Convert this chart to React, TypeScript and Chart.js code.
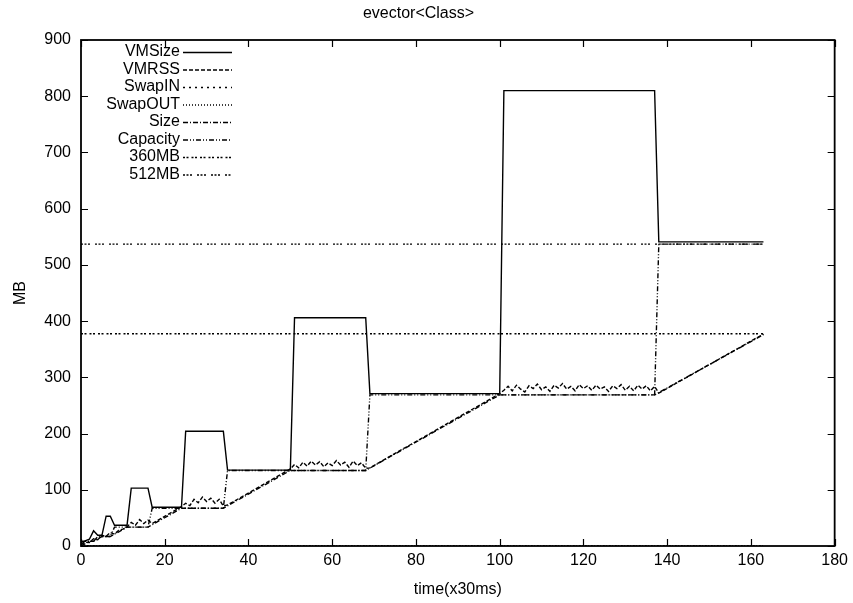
import { useEffect, useRef } from 'react';
import { Chart, registerables } from 'chart.js';

Chart.register(...registerables);

const FONT = "'Liberation Sans', Arial, Helvetica, sans-serif";
const FONT_SIZE = 16;

const TITLE = 'evector<Class>';
const X_TITLE = 'time(x30ms)';
const Y_TITLE = 'MB';
const X_MIN = 0;
const X_MAX = 180;
const X_STEP = 20;
const Y_MIN = 0;
const Y_MAX = 900;
const Y_STEP = 100;

// VMSize (solid)
const vmSizeT = [0, 1, 2, 3, 4, 5, 6, 7, 8, 11, 12, 16, 17, 24, 25, 34, 35, 50, 51, 68, 69, 100, 101, 137, 138, 163];
const vmSizeV = [3, 9, 12, 27, 19, 19, 53, 53, 37, 37, 103, 103, 69, 69, 204, 204, 135, 135, 406, 406, 271, 271, 810, 810, 541, 541];

// VMRSS (dashed)
const vmRssT = [0, 1, 2, 3, 4, 5, 6, 7, 8, 9, 10, 11, 12, 13, 14, 15, 16, 17, 24, 25, 26, 27, 28, 29, 30, 31, 32, 33, 34, 35, 50,
  51, 52, 53, 54, 55, 56, 57, 58, 59, 60, 61, 62, 63, 64, 65, 66, 67, 68, 69, 100,
  101, 102, 103, 104, 105, 106, 107, 108, 109, 110, 111, 112, 113, 114, 115, 116, 117, 118, 119, 120,
  121, 122, 123, 124, 125, 126, 127, 128, 129, 130, 131, 132, 133, 134, 135, 136, 137, 138, 163];
const vmRssV = [2, 7, 6, 13, 11, 19, 17, 24, 21, 28, 30, 34, 42, 37, 47, 40, 46, 40, 70, 76, 72, 83, 77, 87, 79, 85, 76, 83, 71, 73, 137,
  145, 139, 149, 142, 151, 144, 150, 141, 148, 143, 152, 144, 149, 140, 151, 143, 148, 138, 139, 271,
  277, 284, 276, 286, 279, 274, 285, 280, 288, 278, 283, 275, 286, 281, 289, 279, 284, 276, 287, 280,
  285, 277, 286, 279, 283, 275, 285, 280, 287, 277, 284, 276, 286, 279, 285, 276, 284, 272, 377];

// SwapIN / SwapOUT (flat at zero)
const swapInT = [0, 163];
const swapInV = [0, 0];
const swapOutT = [0, 163];
const swapOutV = [0, 0];

// Size (dash-dot)
const sizeT = [0, 2, 3, 5, 7, 11, 16, 24, 34, 50, 68, 100, 137, 163];
const sizeV = [0, 8.4, 8.4, 16.8, 16.8, 33.6, 33.6, 67.2, 67.2, 134.4, 134.4, 268.8, 268.8, 376];

// Capacity (dash-dot-dot)
const capT = [0, 3, 4, 7, 8, 16, 17, 34, 35, 68, 69, 137, 138, 163];
const capV = [8.4, 8.4, 16.8, 16.8, 33.6, 33.6, 67.2, 67.2, 134.4, 134.4, 268.8, 268.8, 537, 537];

// Reference lines
const mb360T = [0, 163];
const mb360V = [377.5, 377.5];
const mb512T = [0, 163];
const mb512V = [536.9, 536.9];

const SERIES_LABELS = ['VMSize', 'VMRSS', 'SwapIN', 'SwapOUT', 'Size', 'Capacity', '360MB', '512MB'];

function pts(t: number[], v: number[]) {
  return t.map((x, i) => ({ x, y: v[i] }));
}

const framePlugin = {
  id: 'gnuplotFrame',
  afterDatasetsDraw(chart: any) {
    const { ctx, chartArea } = chart;
    const { left, right, top, bottom } = chartArea;
    const xs = chart.scales.x;
    const ys = chart.scales.y;
    const TL = 7;
    ctx.save();
    ctx.strokeStyle = '#000';
    ctx.lineWidth = 1.2;
    ctx.setLineDash([]);
    ctx.beginPath();
    xs.ticks.forEach((tk: any) => {
      const px = Math.round(xs.getPixelForValue(tk.value)) + 0.5;
      ctx.moveTo(px, bottom);
      ctx.lineTo(px, bottom - TL);
      ctx.moveTo(px, top);
      ctx.lineTo(px, top + TL);
    });
    ys.ticks.forEach((tk: any) => {
      const py = Math.round(ys.getPixelForValue(tk.value)) + 0.5;
      ctx.moveTo(left, py);
      ctx.lineTo(left + TL, py);
      ctx.moveTo(right, py);
      ctx.lineTo(right - TL, py);
    });
    ctx.stroke();
    ctx.lineWidth = 1.8;
    ctx.strokeRect(left, top, right - left, bottom - top);

    // key (legend) in gnuplot style: right aligned text then line sample
    ctx.font = `${FONT_SIZE}px ${FONT}`;
    ctx.fillStyle = '#000';
    ctx.textAlign = 'right';
    ctx.textBaseline = 'middle';
    const textRight = left + 99;
    const sx0 = left + 102;
    const sx1 = left + 151;
    chart.data.datasets.forEach((ds: any, i: number) => {
      const y = top + 12 + i * 17.5;
      ctx.fillText(ds.label, textRight, y);
      ctx.beginPath();
      ctx.lineWidth = ds.borderWidth;
      ctx.setLineDash(ds.borderDash || []);
      ctx.moveTo(sx0, y + 0.5);
      ctx.lineTo(sx1, y + 0.5);
      ctx.stroke();
    });
    ctx.restore();
  },
};

export default function App() {
  const ref = useRef<HTMLCanvasElement | null>(null);
  useEffect(() => {
    document.body.style.margin = '0';
    const canvas = ref.current;
    if (!canvas) return;
    const mk = (label: string, data: any[], dash: number[]) => ({
      label,
      data,
      borderColor: '#000',
      backgroundColor: '#000',
      borderWidth: 1.4,
      borderDash: dash,
      pointRadius: 0,
      tension: 0,
      fill: false,
    });
    const chart = new Chart(canvas, {
      type: 'line',
      data: {
        datasets: [
          mk(SERIES_LABELS[0], pts(vmSizeT, vmSizeV), []),
          mk(SERIES_LABELS[1], pts(vmRssT, vmRssV), [4, 2]),
          mk(SERIES_LABELS[2], pts(swapInT, swapInV), [2, 4]),
          mk(SERIES_LABELS[3], pts(swapOutT, swapOutV), [1, 2]),
          mk(SERIES_LABELS[4], pts(sizeT, sizeV), [5, 2, 1, 2]),
          mk(SERIES_LABELS[5], pts(capT, capV), [5, 2, 1, 2, 1, 2]),
          mk(SERIES_LABELS[6], pts(mb360T, mb360V), [2, 1.5, 2, 3]),
          mk(SERIES_LABELS[7], pts(mb512T, mb512V), [2, 1.5, 2, 1.5, 2, 5]),
        ],
      },
      options: {
        responsive: false,
        animation: false,
        devicePixelRatio: 1,
        layout: { padding: { left: 0, right: 16, top: 0, bottom: 0 } },
        plugins: {
          legend: { display: false },
          tooltip: { enabled: false },
          title: {
            display: true,
            text: TITLE,
            color: '#000',
            font: { family: FONT, size: FONT_SIZE, weight: 'normal' },
            padding: { top: 4, bottom: 16.8 },
          },
        },
        scales: {
          x: {
            type: 'linear',
            min: X_MIN,
            max: X_MAX,
            grid: { display: false, drawTicks: false },
            border: { display: false },
            ticks: {
              stepSize: X_STEP,
              color: '#000',
              padding: 5,
              maxRotation: 0,
              font: { family: FONT, size: FONT_SIZE },
            },
            title: {
              display: true,
              text: X_TITLE,
              color: '#000',
              font: { family: FONT, size: FONT_SIZE },
              padding: { top: 0, bottom: 4 },
            },
            afterFit: (s: any) => { s.height = 57; },
          },
          y: {
            type: 'linear',
            min: Y_MIN,
            max: Y_MAX,
            grid: { display: false, drawTicks: false },
            border: { display: false },
            ticks: {
              stepSize: Y_STEP,
              color: '#000',
              padding: 10,
              font: { family: FONT, size: FONT_SIZE },
            },
            title: {
              display: true,
              text: Y_TITLE,
              color: '#000',
              font: { family: FONT, size: FONT_SIZE },
              padding: { top: 11, bottom: 0 },
            },
            afterFit: (s: any) => { s.width = 81; },
          },
        },
      },
      plugins: [framePlugin],
    });
    return () => chart.destroy();
  }, []);
  return (
    <div style={{ width: 853, height: 603, background: '#fff' }}>
      <canvas ref={ref} width={853} height={603} style={{ display: 'block', width: 853, height: 603 }} />
    </div>
  );
}
